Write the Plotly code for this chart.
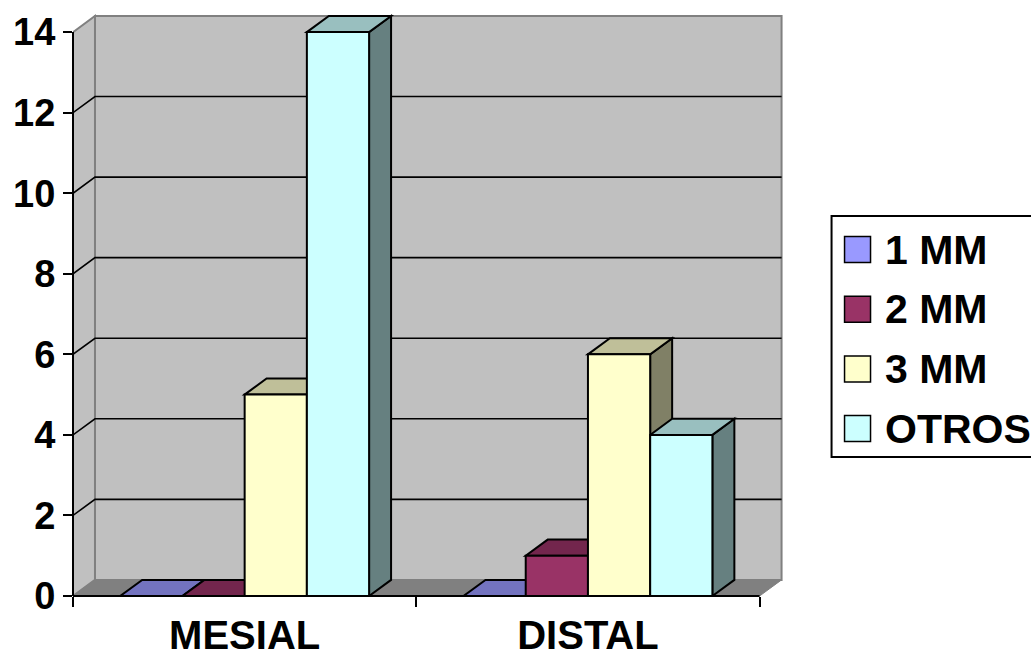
import plotly.graph_objects as go

# ---------------- data ----------------
CATEGORIES = ["MESIAL", "DISTAL"]
SERIES = ["1 MM", "2 MM", "3 MM", "OTROS"]
VAL_1MM = [0, 0]
VAL_2MM = [0, 1]
VAL_3MM = [5, 6]
VAL_OTROS = [14, 4]
Y_TICKS = [0, 2, 4, 6, 8, 10, 12, 14]

# ---------------- styles ----------------
FRONT = ["#9999FF", "#993366", "#FFFFCC", "#CCFFFF"]
TOP = ["#7373BF", "#73264D", "#BFBF99", "#99BFBF"]
SIDE = ["#4D4D80", "#4D1A33", "#808066", "#668080"]
FONT = "Liberation Sans, Arial, sans-serif"

values = [VAL_1MM, VAL_2MM, VAL_3MM, VAL_OTROS]
ncat = len(CATEGORIES)
nser = len(SERIES)
xpos = [j + 0.5 for j in range(ncat)]

# 3D depth offsets (in data units)
DX, DY = 0.064, 0.4
BARGAP = 0.275
bw = (1 - BARGAP) / nser
YMAX = max(Y_TICKS)
XR = ncat + DX + 0.01
YR = YMAX + DY + 0.05

W, H = 1031, 660
PXX, PXY = 343.5, 40.28
ML, MB = 73, 64
pw = XR * PXX
ph = YR * PXY
MR = W - ML - pw
MT = H - MB - ph


def poly(pts, fill, lc, lw, layer="below", close=True):
    path = "M " + " L ".join(f"{x:.5f},{y:.5f}" for x, y in pts) + (" Z" if close else "")
    return dict(type="path", path=path, xref="x", yref="y",
                fillcolor=fill, line=dict(color=lc, width=lw), layer=layer)


shapes = []
# back wall, left wall, floor
shapes.append(poly([(DX, DY), (ncat + DX, DY), (ncat + DX, YMAX + DY), (DX, YMAX + DY)],
                   "#C0C0C0", "#808080", 2))
shapes.append(poly([(0, 0), (DX, DY), (DX, YMAX + DY), (0, YMAX)], "#C0C0C0", "#808080", 2))
shapes.append(poly([(0, 0), (ncat, 0), (ncat + DX, DY), (DX, DY)], "#808080", "#808080", 1))
# gridlines
for v in Y_TICKS[1:-1]:
    shapes.append(poly([(0, v), (DX, v + DY), (ncat + DX, v + DY)], "rgba(0,0,0,0)", "black", 1.6,
                       close=False))
# side + top faces of bars (painter's order)
for j in range(ncat):
    for i in range(nser):
        v = values[i][j]
        x0 = xpos[j] - (1 - BARGAP) / 2 + i * bw
        x1 = x0 + bw
        shapes.append(poly([(x1, 0), (x1 + DX, DY), (x1 + DX, v + DY), (x1, v)], SIDE[i], "black", 2))
        shapes.append(poly([(x0, v), (x1, v), (x1 + DX, v + DY), (x0 + DX, v + DY)], TOP[i], "black", 2))

# axis lines (front plane), unclipped via domain refs
shapes.append(dict(type="line", xref="x domain", yref="y domain", x0=0, x1=0, y0=0, y1=YMAX / YR,
                   line=dict(color="black", width=2), layer="above"))
shapes.append(dict(type="line", xref="x domain", yref="y domain", x0=0, x1=ncat / XR, y0=0, y1=0,
                   line=dict(color="black", width=2), layer="above"))

# manual legend (pixel layout -> paper)
def px(xp):
    return (xp - ML) / pw


def py(yp):
    return (H - MB - yp) / ph


LEG_L, LEG_T, LEG_R, LEG_B = 832, 216, 1050, 457
ROW0, ROWSTEP, SW = 249.5, 59.7, 26
annotations = []
shapes.append(dict(type="rect", xref="paper", yref="paper", x0=px(LEG_L), x1=px(LEG_R),
                   y0=py(LEG_B), y1=py(LEG_T), line=dict(color="black", width=2),
                   fillcolor="white", layer="above"))
for i, s in enumerate(SERIES):
    yc = ROW0 + i * ROWSTEP
    shapes.append(dict(type="rect", xref="paper", yref="paper", x0=px(845), x1=px(845 + SW),
                       y0=py(yc + SW / 2), y1=py(yc - SW / 2), fillcolor=FRONT[i],
                       line=dict(color="black", width=1.5), layer="above"))
    annotations.append(dict(text=s, xref="paper", yref="paper", x=px(883), y=py(yc),
                            xanchor="left", yanchor="middle", showarrow=False,
                            font=dict(family=FONT, size=41, color="black", weight="bold")))

fig = go.Figure()
for i, s in enumerate(SERIES):
    fig.add_trace(go.Bar(x=xpos, y=values[i], name=s,
                         marker=dict(color=FRONT[i], line=dict(color="black", width=2)),
                         cliponaxis=False, showlegend=False, hoverinfo="x+y+name"))

fig.update_layout(
    template="none",
    width=W, height=H,
    margin=dict(l=ML, r=MR, t=MT, b=MB, pad=0),
    paper_bgcolor="white", plot_bgcolor="white",
    barmode="group", bargap=BARGAP, bargroupgap=0,
    showlegend=False,
    shapes=shapes, annotations=annotations,
    font=dict(family=FONT, color="black"),
    xaxis=dict(range=[0, XR], tickmode="array", tickvals=xpos, ticktext=CATEGORIES,
               ticks="", showgrid=False, zeroline=False, showline=False, automargin=False,
               tickfont=dict(family=FONT, size=40, color="black", weight="bold"),
               ticklabelstandoff=12,
               minor=dict(tickmode="array", tickvals=list(range(ncat + 1)), ticks="outside",
                          ticklen=10, tickwidth=2, tickcolor="black", showgrid=False)),
    yaxis=dict(range=[0, YR], tickmode="array", tickvals=Y_TICKS, ticks="outside",
               ticklen=9, tickwidth=2, tickcolor="black", showgrid=False, zeroline=False,
               showline=False, automargin=False,
               tickfont=dict(family=FONT, size=38, color="black", weight="bold")),
)

fig.write_html("out.html")
